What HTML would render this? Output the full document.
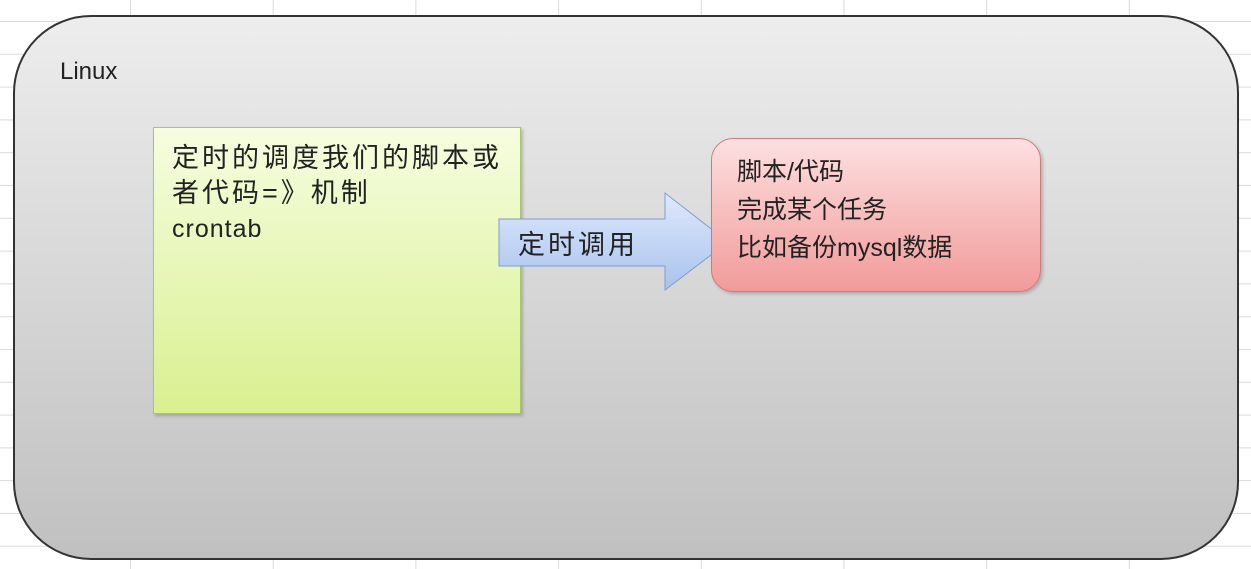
<!DOCTYPE html>
<html><head><meta charset="utf-8"><style>
body{margin:0;width:1251px;height:569px;overflow:hidden;background:#fff;position:relative;font-family:"Liberation Sans","Noto Sans CJK SC",sans-serif;}
.grid{position:absolute;left:0;top:0;width:1251px;height:569px;
background-image:linear-gradient(to right,#dadada 1px,transparent 1px),linear-gradient(to bottom,#dadada 1px,transparent 1px);
background-size:142.7px 32.8px;background-position:130px 0,0 21px;}
.main{position:absolute;left:13px;top:15px;width:1222px;height:541px;border:2px solid #333;border-radius:78px;
background:linear-gradient(#ededed,#c0c0c0);}
.lin{position:absolute;left:60px;top:58px;font-size:24px;color:#222;}
.green{position:absolute;left:153px;top:127px;width:366px;height:285px;border:1px solid #a9c76a;
background:linear-gradient(#f6fde0,#d9f08f);box-shadow:2px 2px 3px rgba(0,0,0,.2);}
.gt{position:absolute;left:172px;top:141px;font-size:27px;letter-spacing:3px;line-height:35px;color:#222;white-space:nowrap;}
.red{position:absolute;left:711px;top:138px;width:328px;height:152px;border:1px solid #cf7a7a;border-radius:22px;
background:linear-gradient(#fde0e0,#f29a9a);box-shadow:2px 2px 3px rgba(0,0,0,.2);}
.rt{position:absolute;left:737px;top:153px;font-size:25px;line-height:38px;color:#222;white-space:nowrap;}
</style></head><body>
<div class="grid"></div>
<div class="main"></div>
<div class="lin">Linux</div>
<div class="green"></div>
<div class="gt">定时的调度我们的脚本或<br>者代码=》机制<br><span style="font-size:25px;letter-spacing:1px">crontab</span></div>
<svg style="position:absolute;left:0;top:0" width="1251" height="569">
<defs><linearGradient id="b" x1="0" y1="0" x2="0" y2="1"><stop offset="0" stop-color="#dfe9fc"/><stop offset="1" stop-color="#a8c3ee"/></linearGradient></defs>
<polygon points="499,219 665,219 665,193 728,242 665,290 665,266 499,266" fill="url(#b)" stroke="#7d9dcf" stroke-width="1"/>
<text x="518" y="254" font-size="27" letter-spacing="3" fill="#222" font-family="Liberation Sans, Noto Sans CJK SC, sans-serif">定时调用</text>
</svg>
<div class="red"></div>
<div class="rt">脚本/代码<br>完成某个任务<br>比如备份mysql数据</div>
</body></html>
